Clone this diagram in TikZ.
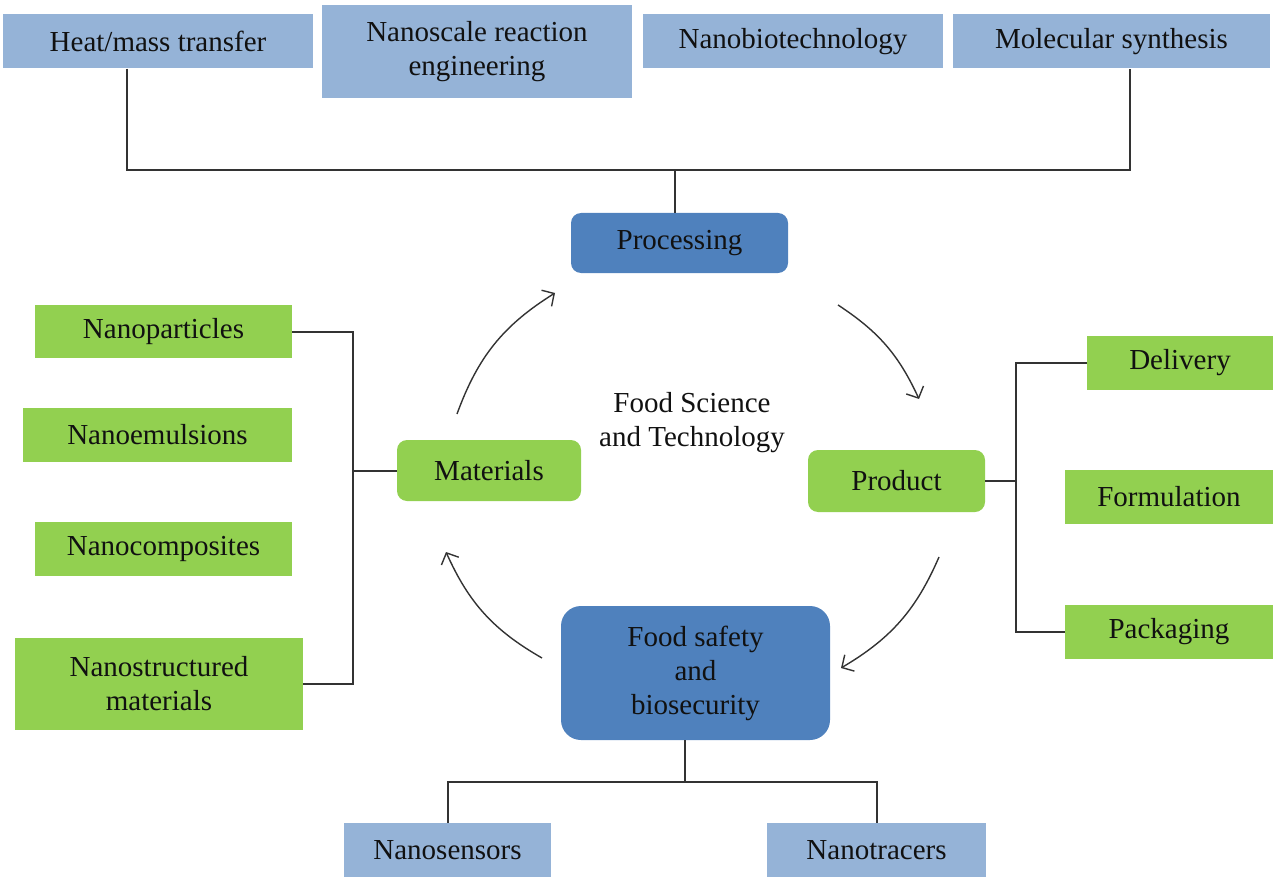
\documentclass[tikz,border=0pt]{standalone}
\usepackage{fontspec}
\setmainfont{Liberation Serif}
\usetikzlibrary{arrows.meta}
\definecolor{lblue}{HTML}{95B3D7}
\definecolor{dblue}{HTML}{4F81BD}
\definecolor{lgreen}{HTML}{92D050}
\definecolor{ink}{HTML}{111111}
\definecolor{wire}{HTML}{333333}
\begin{document}
\begin{tikzpicture}[x=1pt,y=-1pt,
  base/.style={inner sep=0pt, align=center, text=ink, font=\fontsize{29}{34}\selectfont},
  bluebox/.style={base, fill=lblue},
  darkbox/.style={base, fill=dblue, rounded corners=10pt},
  greenbox/.style={base, fill=lgreen},
  greenround/.style={greenbox, rounded corners=10pt},
  wireline/.style={draw=wire, line width=2pt},
  cyc/.style={draw=wire, line width=1.4pt, -{Straight Barb[length=9pt,width=19pt]}}
]
\useasboundingbox (0,0) rectangle (1273,877);
% top row
\node[bluebox, minimum width=310pt, minimum height=54pt] (heat) at (158,41.5) {Heat/mass transfer};
\node[bluebox, minimum width=310pt, minimum height=93pt] (nre) at (477,51.5) {Nanoscale reaction\\engineering};
\node[bluebox, minimum width=300pt, minimum height=54pt] (nbt) at (793,41.5) {Nanobiotechnology};
\node[bluebox, minimum width=317pt, minimum height=54pt] (mol) at (1111.5,41.5) {Molecular synthesis};
% cycle
\node[darkbox, minimum width=217pt, minimum height=60pt] (proc) at (679.5,243) {Processing};
\node[greenround, minimum width=184pt, minimum height=61pt] (mat) at (489,470.5) {Materials};
\node[greenround, minimum width=177pt, minimum height=62pt] (prod) at (896.5,481) {Product};
\node[darkbox, rounded corners=20pt, minimum width=269pt, minimum height=134pt] (food) at (695.5,673) {Food safety\\and\\biosecurity};
\node[base] (fst) at (692,423) {Food Science\\and Technology};
% left
\node[greenbox, minimum width=257pt, minimum height=53pt] (np) at (163.5,331.5) {Nanoparticles};
\node[greenbox, minimum width=269pt, minimum height=54pt] (ne) at (157.5,435) {Nanoemulsions};
\node[greenbox, minimum width=257pt, minimum height=54pt] (nc) at (163.5,549) {Nanocomposites};
\node[greenbox, minimum width=288pt, minimum height=92pt] (ns) at (159,684) {Nanostructured\\materials};
% right
\node[greenbox, minimum width=186pt, minimum height=54pt] (del) at (1180,363) {Delivery};
\node[greenbox, minimum width=208pt, minimum height=54pt] (form) at (1169,497) {Formulation};
\node[greenbox, minimum width=208pt, minimum height=54pt] (pack) at (1169,632) {Packaging};
% bottom
\node[bluebox, minimum width=207pt, minimum height=54pt] (sens) at (447.5,850) {Nanosensors};
\node[bluebox, minimum width=219pt, minimum height=54pt] (trac) at (876.5,850) {Nanotracers};
% top bus
\coordinate (h1) at (127,170);
\coordinate (m1) at (1130,170);
\coordinate (pj) at (675,170);
\draw[wireline] (heat.south -| h1) -- (h1) -- (m1) -- (mol.south -| m1);
\draw[wireline] (pj) -- (proc.north -| pj);
% left bus
\coordinate (lb) at (353,471);
\draw[wireline] (np.east) -- (np.east -| lb) -- (ns.east -| lb) -- (ns.east);
\draw[wireline] (mat.west) -- (mat.west -| lb);
% right bus
\coordinate (rb) at (1016,481);
\draw[wireline] (del.west) -- (del.west -| rb) -- (pack.west -| rb) -- (pack.west);
\draw[wireline] (prod.east) -- (prod.east -| rb);
% bottom bus
\coordinate (bb) at (685,782);
\draw[wireline] (food.south -| bb) -- (bb);
\draw[wireline] (sens.north) |- (bb) -| (trac.north);
% cycle arrows
\coordinate (a1s) at (457,414); \coordinate (a1e) at (555,293);
\coordinate (a2s) at (838,305); \coordinate (a2e) at (919,399);
\coordinate (a3s) at (939,557); \coordinate (a3e) at (841,668);
\coordinate (a4s) at (542,658); \coordinate (a4e) at (446,552);
\draw[cyc] (a1s) to[bend left=19] (a1e);
\draw[cyc] (a2s) to[bend left=16] (a2e);
\draw[cyc] (a3s) to[bend left=18] (a3e);
\draw[cyc] (a4s) to[bend left=18] (a4e);
\end{tikzpicture}
\end{document}
